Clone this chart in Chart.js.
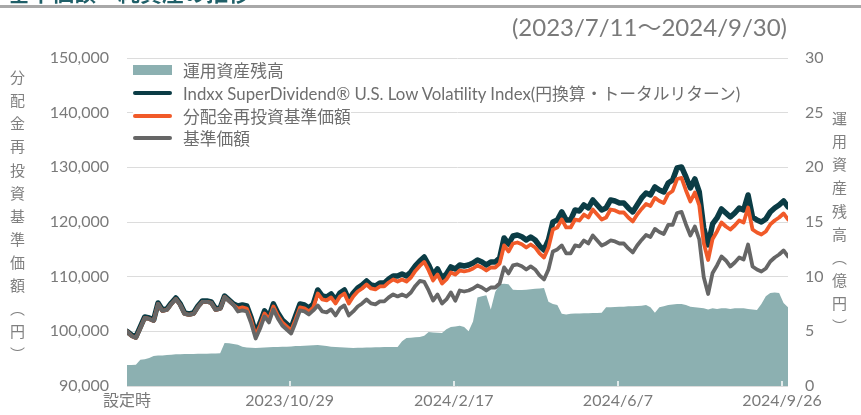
<!DOCTYPE html>
<html><head><meta charset="utf-8">
<script src="https://cdn.jsdelivr.net/npm/chart.js@4.4.1/dist/chart.umd.min.js"></script>
<style>
html,body{margin:0;padding:0;background:#fff;width:861px;height:415px;overflow:hidden;font-family:Lato,'Noto Sans CJK JP',sans-serif;}
#wrap{position:relative;width:861px;height:415px;overflow:hidden;}
#c{position:absolute;left:0;top:0;}
.heading{position:absolute;left:8px;top:-25px;font-size:22px;font-weight:bold;color:#1f5f68;font-family:'Noto Sans CJK JP',sans-serif;white-space:nowrap;}
.rule{position:absolute;left:0;top:5px;width:861px;height:3px;background:#a8a8a8;}
.period{position:absolute;right:74px;top:8px;font-size:24px;color:#7a7a7a;white-space:nowrap;}
.vt{position:absolute;writing-mode:vertical-rl;font-size:15px;line-height:15px;color:#808080;letter-spacing:8.1px;font-family:'Noto Sans CJK JP',sans-serif;white-space:nowrap;}
.legend{position:absolute;left:133px;top:59px;}
.li{display:flex;align-items:center;height:22.7px;background:#fff;width:max-content;font-size:16.8px;color:#6e6e6e;white-space:nowrap;}
.sw{width:39px;margin-right:11px;}
.box{height:10px;background:#8cb0b1;}
.ln{height:4px;border-radius:2px;}
</style></head>
<body><div id="wrap">
<canvas id="c" width="861" height="415"></canvas>
<div class="heading">基準価額・純資産の推移</div>
<div class="rule"></div>
<div class="period">(2023/7/11～2024/9/30)</div>
<div class="vt" style="left:10px;top:70px;">分配金再投資基準価額（円）</div>
<div class="vt" style="left:832px;top:111px;">運用資産残高（億円）</div>
<div class="legend">
  <div class="li"><div class="sw box"></div>運用資産残高</div>
  <div class="li"><div class="sw ln" style="background:#0b3c45"></div>Indxx SuperDividend® U.S. Low Volatility Index(円換算・トータルリターン)</div>
  <div class="li"><div class="sw ln" style="background:#f15a29"></div>分配金再投資基準価額</div>
  <div class="li"><div class="sw ln" style="background:#666666"></div>基準価額</div>
</div>
</div>
<script>
// days since 2023/7/11 (設定時)
const days = [0,3,6,9,12,15,18,21,24,27,30,33,36,39,42,45,48,51,54,57,60,63,66,69,72,75,78,81,84,87,90,93,96,99,102,105,108,111,114,117,120,123,126,129,132,135,138,141,144,147,150,153,156,159,162,165,168,171,174,177,180,183,186,189,192,195,198,201,204,207,210,213,216,219,222,225,228,231,234,237,240,243,246,249,252,255,258,261,264,267,270,273,276,279,282,285,288,291,294,297,300,303,306,309,312,315,318,321,324,327,330,333,336,339,342,345,348,351,354,357,360,363,366,369,372,375,378,381,384,387,390,393,396,399,402,405,408,411,414,417,420,423,426,429,432,435,438,441,444,447];

const tickDays = [0,110,221,332,443];
const tickLabels = ['設定時','2023/10/29','2024/2/17','2024/6/7','2024/9/26'];

const indexVals = [
100000, 99340, 98970, 100800, 102630, 102450, 102080, 105190, 103910, 104100,
105190, 106100, 105010, 103360, 103180, 103360, 104640, 105560, 105560, 105370,
104090, 104280, 106470, 105740, 105010, 104640, 104830, 104640, 102450, 99700,
101530, 103730, 102630, 105010, 103360, 102080, 101350, 100620, 102820, 105010,
104830, 104280, 105010, 107570, 106470, 106290, 106840, 105740, 107020, 107570,
105740, 107020, 107930, 108480, 109210, 108480, 108300, 108850, 108850, 109580,
110130, 110130, 110500, 110130, 110860, 111960, 112870, 113600, 112140, 110310,
111410, 109760, 110500, 111780, 111400, 112140, 111960, 112140, 112510, 113060,
112690, 112140, 112690, 112690, 113420, 117080, 115980, 117440, 117620, 117300,
116710, 117260, 116710, 115620, 114880, 116710, 120010, 120370, 121840, 120370,
120370, 122200, 122020, 123110, 122570, 124030, 123110, 122200, 122570, 124030,
123850, 123480, 123480, 122570, 121840, 123110, 124400, 125310, 124950, 126410,
125860, 125490, 127140, 127690, 129880, 130070, 128240, 126220, 127870, 125490,
118910, 115800, 119640, 120740, 122380, 121650, 120920, 121650, 122570, 122200,
124940, 120920, 120370, 120010, 120550, 121840, 122570, 123110, 123850, 122750
];

const reinvestVals = [
100000, 99160, 98790, 100620, 102450, 102270, 101900, 105010, 103730, 103920,
105010, 105920, 104830, 103180, 103000, 103180, 104460, 105380, 105380, 105190,
103910, 104100, 106290, 105560, 104830, 104180, 104370, 104180, 101990, 99240,
101070, 103270, 102170, 104550, 102900, 101620, 100890, 100160, 102180, 104370,
104190, 103640, 104370, 106930, 105830, 105650, 106200, 105100, 106380, 106930,
105100, 106380, 107290, 107840, 108570, 107840, 107660, 108210, 108210, 108940,
109490, 109120, 109490, 109120, 109850, 111050, 111960, 112690, 111130, 109300,
110400, 108750, 109490, 110770, 110390, 111130, 110950, 111130, 111500, 112050,
111680, 111130, 111680, 111680, 112410, 115710, 114610, 116070, 116250, 115930,
115340, 115890, 115340, 114250, 113510, 115340, 118640, 119000, 120470, 119000,
119000, 120460, 120280, 121370, 120830, 122290, 121370, 120460, 120830, 122290,
122110, 121740, 121740, 120830, 120100, 121370, 122390, 123300, 122940, 124400,
123850, 123480, 125130, 125680, 127870, 128060, 125770, 123750, 125400, 123020,
116170, 113060, 116900, 118270, 119910, 119180, 118630, 119360, 120280, 119910,
122650, 118630, 118080, 117720, 118260, 119550, 120280, 120820, 121560, 120460
];

const navVals = [
100000, 99160, 98790, 100620, 102450, 102270, 101900, 105010, 103730, 103920,
105010, 105920, 104830, 103180, 103000, 103180, 104460, 105380, 105380, 105190,
103910, 104100, 106290, 105560, 104830, 103630, 103820, 103630, 101440, 98690,
100520, 102720, 101620, 104000, 102350, 101070, 100340, 99610, 101630, 103820,
103640, 103090, 103820, 104740, 103640, 103460, 104010, 102910, 104190, 104740,
102910, 103640, 104550, 105100, 105830, 105100, 104920, 105470, 105470, 106200,
106750, 106380, 106750, 106380, 107110, 108310, 109220, 109030, 107470, 105640,
106740, 105090, 105830, 107110, 105600, 107470, 107290, 107470, 107840, 108390,
108020, 107470, 108020, 108020, 108750, 111690, 110590, 112050, 112230, 111910,
111320, 111870, 111320, 110230, 109490, 111320, 114620, 114980, 115720, 114250,
114250, 115710, 115530, 116620, 116080, 117540, 116620, 115710, 116080, 116620,
116440, 116070, 116070, 115160, 114430, 115700, 116720, 117630, 117270, 118730,
118180, 117810, 119460, 119460, 121650, 121840, 119550, 117530, 119180, 116800,
109950, 106840, 110680, 112050, 113690, 112960, 111860, 112590, 113510, 113140,
115880, 111860, 111310, 110950, 111490, 112780, 113510, 114050, 114790, 113690
];

// 運用資産残高（億円）
const aumVals = [
1.92, 1.92, 1.95, 2.40, 2.45, 2.55, 2.75, 2.78, 2.80, 2.84,
2.86, 2.90, 2.90, 2.92, 2.93, 2.93, 2.95, 2.95, 2.96, 2.97,
2.98, 3.00, 3.93, 3.90, 3.85, 3.78, 3.60, 3.52, 3.50, 3.48,
3.50, 3.52, 3.55, 3.57, 3.57, 3.60, 3.60, 3.62, 3.65, 3.66,
3.68, 3.70, 3.72, 3.75, 3.70, 3.65, 3.60, 3.57, 3.55, 3.52,
3.50, 3.48, 3.50, 3.50, 3.52, 3.53, 3.55, 3.55, 3.56, 3.57,
3.57, 3.57, 4.10, 4.40, 4.42, 4.45, 4.48, 4.60, 4.94, 4.90,
4.88, 4.85, 5.20, 5.40, 5.45, 5.50, 5.40, 5.00, 5.90, 8.10,
8.20, 8.30, 7.00, 8.60, 9.30, 9.35, 9.30, 8.80, 8.78, 8.78,
8.80, 8.85, 8.90, 8.92, 8.96, 7.70, 7.50, 7.40, 6.60, 6.55,
6.60, 6.62, 6.64, 6.65, 6.66, 6.67, 6.68, 6.70, 7.20, 7.20,
7.22, 7.25, 7.25, 7.30, 7.30, 7.32, 7.35, 7.40, 7.20, 6.70,
7.20, 7.30, 7.40, 7.45, 7.50, 7.50, 7.40, 7.25, 7.20, 7.15,
7.10, 7.00, 7.10, 7.05, 7.10, 7.10, 7.05, 7.10, 7.10, 7.10,
7.05, 7.00, 6.95, 7.50, 8.20, 8.50, 8.55, 8.50, 7.60, 7.20
];

const toPts = arr => days.map((d,i)=>({x:d,y:arr[i]}));
const lineBase = {pointRadius:0, tension:0, borderJoinStyle:'round', borderCapStyle:'round', fill:false, yAxisID:'y'};

const innerTicks = {
  id:'innerTicks',
  afterDatasetsDraw(chart){
    const {ctx, scales:{x}, chartArea} = chart;
    ctx.save();
    ctx.strokeStyle = '#ffffff';
    ctx.lineWidth = 1.5;
    tickDays.slice(1).forEach(d=>{
      const px = Math.round(x.getPixelForValue(d));
      ctx.beginPath();
      ctx.moveTo(px, chartArea.bottom);
      ctx.lineTo(px, chartArea.bottom-5);
      ctx.stroke();
    });
    ctx.restore();
  }
};

Chart.defaults.font.family = "Lato, 'Noto Sans CJK JP', sans-serif";

new Chart(document.getElementById('c'), {
  type:'line',
  data:{datasets:[
    Object.assign({}, lineBase, {label:'基準価額', data:toPts(navVals), borderColor:'#666666', borderWidth:3.8, order:1}),
    Object.assign({}, lineBase, {label:'分配金再投資基準価額', data:toPts(reinvestVals), borderColor:'#f15a29', borderWidth:3.8, order:2}),
    Object.assign({}, lineBase, {label:'Indxx SuperDividend® U.S. Low Volatility Index(円換算・トータルリターン)', data:toPts(indexVals), borderColor:'#0b3c45', borderWidth:5.5, order:3}),
    {label:'運用資産残高', data:toPts(aumVals), yAxisID:'y1', fill:'origin', backgroundColor:'#8cb0b1', borderColor:'#8cb0b1', borderWidth:0, pointRadius:0, tension:0, order:4}
  ]},
  options:{
    responsive:false, animation:false, devicePixelRatio:1,
    layout:{padding:{top:58,left:0,right:0,bottom:0}},
    plugins:{legend:{display:false}, tooltip:{enabled:false}},
    scales:{
      x:{type:'linear', min:0, max:447,
        afterBuildTicks:s=>{s.ticks = tickDays.map(v=>({value:v}));},
        ticks:{callback:v=>tickLabels[tickDays.indexOf(v)], autoSkip:false, maxRotation:0, padding:5, color:'#7a7a7a', font:{size:16}},
        grid:{display:false, drawTicks:false}, border:{display:false},
        afterFit:s=>{s.height=29;}},
      y:{position:'left', min:90000, max:150000,
        ticks:{stepSize:10000, callback:v=>v.toLocaleString('en-US'), color:'#7a7a7a', font:{size:16}, padding:18},
        grid:{color:'#dcdcdc', lineWidth:1, drawTicks:false}, border:{display:false},
        afterFit:s=>{s.width=127;}},
      y1:{position:'right', min:0, max:30,
        ticks:{stepSize:5, color:'#7a7a7a', font:{size:16}, padding:17},
        grid:{display:false, drawTicks:false}, border:{display:false},
        afterFit:s=>{s.width=73;}}
    }
  },
  plugins:[innerTicks]
});
</script>
</body></html>
